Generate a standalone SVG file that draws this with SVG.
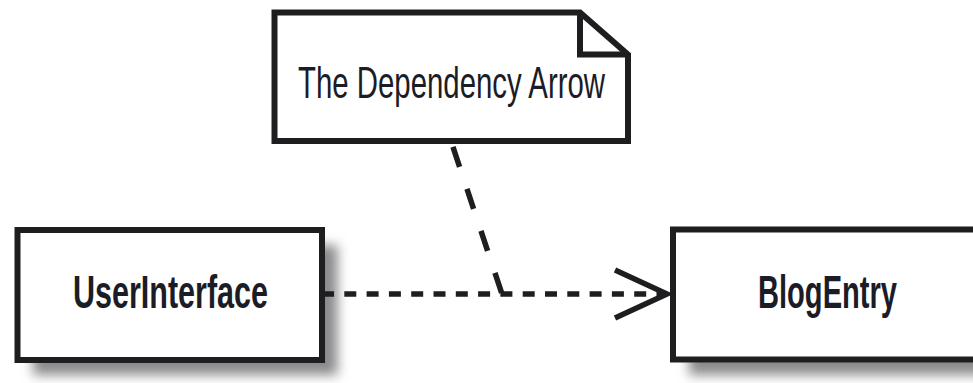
<svg xmlns="http://www.w3.org/2000/svg" width="973" height="383" viewBox="0 0 973 383">
  <style>
    .box { fill: #ffffff; stroke: #1e1e20; stroke-width: 6; }
    .shadow { fill: #8a8a8c; filter: url(#blur); }
    .label { font-family: "Liberation Sans", "DejaVu Sans", sans-serif; fill: #1c1c26; text-anchor: middle; }
    .bold { font-weight: bold; font-size: 46px; }
    .note { font-size: 45px; }
    .dash { fill: none; stroke: #1e1e20; stroke-width: 5.5; }
  </style>
  <defs>
    <filter id="blur" x="-20%" y="-20%" width="140%" height="140%">
      <feGaussianBlur stdDeviation="6"/>
    </filter>
  </defs>
  <rect width="973" height="383" fill="#ffffff"/>

  <g id="note">
    <path class="box" d="M274.5 12.5 H580 L628 54.5 V141 H274.5 Z" stroke-linejoin="miter"/>
    <path d="M580 12.5 V54.5 H628" fill="none" stroke="#1e1e20" stroke-width="6"/>
    <text class="label note" x="451.5" y="98" textLength="307" lengthAdjust="spacingAndGlyphs">The Dependency Arrow</text>
  </g>

  <g id="userinterface">
    <rect class="shadow" x="33" y="245" width="304.5" height="130"/>
    <rect class="box" x="17.5" y="230" width="304.5" height="130"/>
    <text class="label bold" x="170.5" y="308" textLength="195" lengthAdjust="spacingAndGlyphs">UserInterface</text>
  </g>

  <g id="blogentry">
    <rect class="shadow" x="689" y="245" width="300" height="130"/>
    <rect x="673" y="229.5" width="300" height="130" fill="#ffffff"/>
    <path d="M973 229.5 H673 V359.5 H973" fill="none" stroke="#1e1e20" stroke-width="6"/>
    <text class="label bold" x="827.5" y="308" textLength="139" lengthAdjust="spacingAndGlyphs">BlogEntry</text>
  </g>

  <g id="connectors">
    <path class="dash" d="M322 294 H667" stroke-dasharray="12 10.3"/>
    <path d="M615 270 L667 294 L615 318" fill="none" stroke="#1e1e20" stroke-width="5.5" stroke-linecap="butt"/>
    <path class="dash" d="M452 144 L502 294" stroke-dasharray="21 23.3" stroke-dashoffset="-3"/>
  </g>
</svg>
